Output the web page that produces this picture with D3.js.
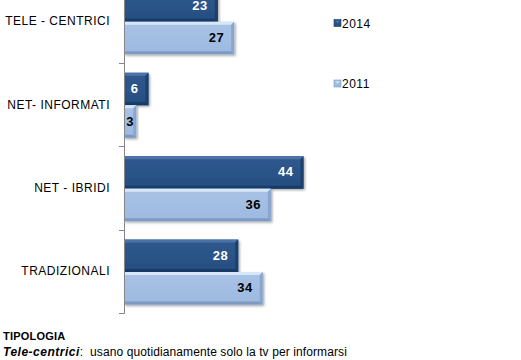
<!DOCTYPE html>
<html><head><meta charset="utf-8">
<script src="https://cdn.jsdelivr.net/npm/d3@7"></script>
<style>
html,body{margin:0;padding:0;background:#fff;}
svg{display:block;font-family:"Liberation Sans",Arial,sans-serif;}
</style></head>
<body>
<svg id="c" width="521" height="360"></svg>
<script>
const categories = ["TELE - CENTRICI", "NET- INFORMATI", "NET - IBRIDI", "TRADIZIONALI"];
const series = ["2014", "2011"];
const values2014 = [23, 6, 44, 28];
const values2011 = [27, 3, 36, 34];
const footerTitle = "TIPOLOGIA";
const footerTerm = "Tele-centrici";
const footerText = ":  usano quotidianamente solo la tv per informarsi";

const svg = d3.select("#c");
const x = d3.scaleLinear().domain([0, 50]).range([124, 328]);
const y = d3.scaleBand().domain(categories).range([-20.7, 313]).padding(0);
const sub = d3.scaleBand().domain(series).range([10, y.bandwidth() - 8.4]).padding(0);

const defs = svg.append("defs");
const styles = {
  "2014": {top: "#4f77aa", a: "#2f5a8f", b: "#264d80", bot: "#183a66", right: "#1c3f6c", text: "#fff"},
  "2011": {top: "#dcebfb", a: "#a9c3e6", b: "#9db9e0", bot: "#7d9ac3", right: "#8aa6cd", text: "#000"}
};
series.forEach(s => {
  const g = defs.append("linearGradient").attr("id", "g" + s).attr("x1", 0).attr("y1", 0).attr("x2", 0).attr("y2", 1);
  g.append("stop").attr("offset", "0%").attr("stop-color", styles[s].a);
  g.append("stop").attr("offset", "100%").attr("stop-color", styles[s].b);
});
const f = defs.append("filter").attr("id", "sh").attr("x", "-10%").attr("y", "-10%").attr("width", "130%").attr("height", "140%");
f.append("feDropShadow").attr("dx", 1.5).attr("dy", 1.5).attr("stdDeviation", 1).attr("flood-color", "#000").attr("flood-opacity", 0.35);

const data = [];
categories.forEach((c, i) => {
  data.push({cat: c, s: "2014", v: values2014[i]});
  data.push({cat: c, s: "2011", v: values2011[i]});
});

const gBars = svg.append("g");
data.forEach(d => {
  const st = styles[d.s];
  const x0 = x(0), x1 = x(d.v);
  const y0 = y(d.cat) + sub(d.s), h = sub.bandwidth();
  const w = x1 - x0;
  const g = gBars.append("g");
  g.append("rect").attr("x", x0).attr("y", y0).attr("width", w).attr("height", h)
    .attr("fill", "url(#g" + d.s + ")").attr("filter", "url(#sh)");
  g.append("path").attr("d", `M${x0},${y0} L${x1},${y0} L${x1 - 3},${y0 + 3} L${x0},${y0 + 3} Z`).attr("fill", st.top).attr("opacity", 0.9);
  g.append("path").attr("d", `M${x0},${y0 + h} L${x1},${y0 + h} L${x1 - 3},${y0 + h - 3} L${x0},${y0 + h - 3} Z`).attr("fill", st.bot);
  g.append("path").attr("d", `M${x1},${y0} L${x1},${y0 + h} L${x1 - 3},${y0 + h - 3} L${x1 - 3},${y0 + 3} Z`).attr("fill", st.right);
  const t = g.append("text").text(d.v).attr("y", y0 + h / 2 - 0.5).attr("dy", "0.35em")
    .attr("font-size", 13).attr("font-weight", "bold").attr("letter-spacing", 0.5).attr("fill", st.text);
  const tw = t.node().getComputedTextLength();
  if (w < tw + 16) t.attr("x", (x0 + x1) / 2).attr("text-anchor", "middle");
  else t.attr("x", x1 - 10).attr("text-anchor", "end");
});

const ax = svg.append("g").attr("stroke", "#868686").attr("stroke-width", 1);
ax.append("line").attr("x1", x(0) + 0.5).attr("x2", x(0) + 0.5).attr("y1", 0).attr("y2", y.range()[1] + 0.5);
categories.slice(1).concat([null]).forEach(c => {
  const yy = c ? y(c) : y.range()[1];
  ax.append("line").attr("x1", x(0) - 5).attr("x2", x(0) + 0.5).attr("y1", Math.round(yy) + 0.5).attr("y2", Math.round(yy) + 0.5);
});

svg.append("g").selectAll("text").data(categories).join("text")
  .attr("x", 110).attr("y", d => y(d) + y.bandwidth() / 2).attr("dy", "0.35em")
  .attr("text-anchor", "end").attr("font-size", 12).attr("letter-spacing", 0.5).attr("fill", "#000")
  .text(d => d);

const leg = svg.append("g");
[{s: "2014", y: 19.5}, {s: "2011", y: 80}].forEach(l => {
  const st = styles[l.s];
  leg.append("rect").attr("x", 334).attr("y", l.y).attr("width", 7).attr("height", 7).attr("fill", "url(#g" + l.s + ")").attr("stroke", st.bot).attr("stroke-width", 0.6);
  leg.append("path").attr("d", `M335.5,${l.y + 1.5} L339.5,${l.y + 1.5} L337.5,${l.y + 3.5} Z`).attr("fill", st.top);
  leg.append("text").attr("x", 342).attr("y", l.y + 8).attr("font-size", 12).attr("letter-spacing", 0.5).attr("fill", "#000").text(l.s);
});

svg.append("text").attr("x", 3).attr("y", 340).attr("font-size", 11).attr("font-weight", "bold").attr("letter-spacing", 0.2).attr("fill", "#000").text(footerTitle);
const ft = svg.append("text").attr("x", 3).attr("y", 356).attr("font-size", 12).attr("fill", "#000");
ft.append("tspan").attr("font-weight", "bold").attr("font-style", "italic").attr("letter-spacing", 0.5).text(footerTerm);
ft.append("tspan").attr("letter-spacing", 0.1).style("white-space", "pre").text(footerText);
</script>
</body></html>
